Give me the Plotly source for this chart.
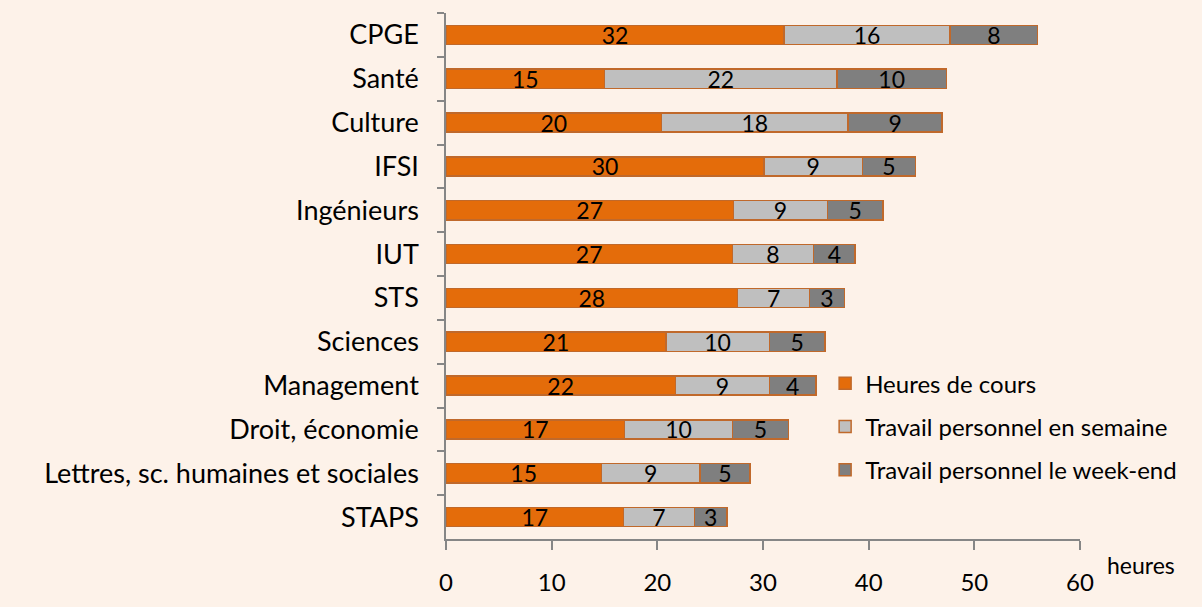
import plotly.graph_objects as go

categories = ["CPGE", "Santé", "Culture", "IFSI", "Ingénieurs", "IUT", "STS",
              "Sciences", "Management", "Droit, économie",
              "Lettres, sc. humaines et sociales", "STAPS"]
cours = [32.0, 15.0, 20.4, 30.1, 27.2, 27.1, 27.6, 20.8, 21.7, 16.9, 14.7, 16.8]
semaine = [15.7, 22.0, 17.65, 9.3, 8.9, 7.7, 6.8, 9.8, 8.9, 10.2, 9.35, 6.7]
weekend = [8.3, 10.35, 8.9, 5.05, 5.25, 3.9, 3.3, 5.25, 4.4, 5.3, 4.7, 3.1]
series_names = ["Heures de cours", "Travail personnel en semaine", "Travail personnel le week-end"]
x_ticks = [0, 10, 20, 30, 40, 50, 60]

colors = ["#E46C0A", "#BFBFBF", "#7F7F7F"]
outline = "#C0692B"
bg = "#FDF2E9"
font_family = "Lato"

fig = go.Figure()
for i, (name, vals) in enumerate(zip(series_names, [cours, semaine, weekend])):
    fig.add_trace(go.Bar(
        y=categories, x=vals, name=name, orientation="h",
        marker=dict(color=colors[i], line=dict(color=outline, width=1.5)),
        text=[f"{round(v):d}" for v in vals],
        textposition="inside", insidetextanchor="middle", textangle=0,
        textfont=dict(family=font_family, size=23, color="#000000"),
        width=0.44, legendgroup=f"g{i}", hoverinfo="x+y+name",
    ))

fig.update_layout(
    barmode="stack",
    width=1202, height=607,
    paper_bgcolor=bg, plot_bgcolor=bg,
    margin=dict(l=446, r=122, t=13, b=68),
    font=dict(family=font_family, size=22, color="#000000"),
    uniformtext=dict(minsize=22, mode="show"),
    legend=dict(
        x=0.598, y=0.338, xanchor="left", yanchor="top",
        traceorder="grouped", tracegroupgap=9,
        font=dict(family=font_family, size=24, color="#000000"),
        bgcolor="rgba(0,0,0,0)", itemwidth=30,
    ),
    showlegend=True,
)

fig.update_xaxes(
    range=[0, 60], tickvals=x_ticks, showgrid=False, zeroline=False,
    showline=True, linecolor="#868686", linewidth=1.5,
    ticks="outside", ticklen=9, tickcolor="#868686", tickwidth=1.5,
    ticklabelstandoff=12, automargin=False,
    tickfont=dict(family=font_family, size=24, color="#000000"),
)
fig.update_yaxes(
    categoryorder="array", categoryarray=categories, autorange="reversed",
    showgrid=False, zeroline=False,
    showline=True, linecolor="#868686", linewidth=1.5,
    ticks="outside", ticklen=7, tickcolor="#868686", tickwidth=1.5,
    tickson="boundaries", ticklabelstandoff=20, automargin=False,
    tickfont=dict(family=font_family, size=27, color="#000000"),
)

fig.add_annotation(
    text="heures", xref="paper", yref="paper", x=1.096, y=-0.05,
    xanchor="center", yanchor="middle", showarrow=False,
    font=dict(family=font_family, size=23, color="#000000"),
)

fig.write_html("out.html", config={"displayModeBar": False},
               post_script="document.body.style.margin='0';")
